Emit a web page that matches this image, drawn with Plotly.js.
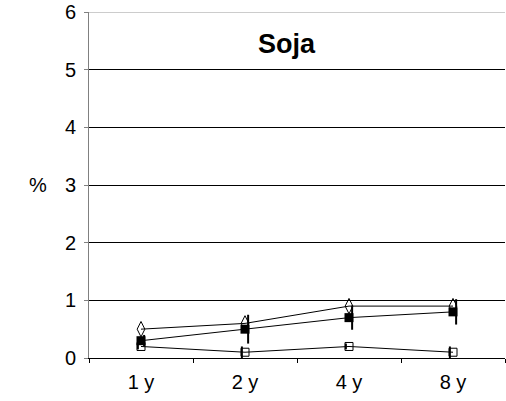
<!DOCTYPE html>
<html><head><meta charset="utf-8">
<script src="https://cdn.plot.ly/plotly-3.0.1.min.js"></script>
<style>html,body{margin:0;padding:0;background:#fff}#c{width:506px;height:401px}</style>
</head><body><div id="c"></div>
<script>
const categories = ['1 y', '2 y', '4 y', '8 y'];
const diamondVals = [0.5, 0.6, 0.9, 0.9];
const filledVals = [0.3, 0.5, 0.7, 0.8];
const filledErr = [0.1, 0.25, 0.21, 0.22];
const openVals = [0.2, 0.1, 0.2, 0.1];
const openErr = [0.05, 0.1, 0.05, 0.1];
const yTicks = [0, 1, 2, 3, 4, 5, 6];

const xs = categories.map((c, i) => i);
const shift = (arr, d) => arr.map(v => v + d);

const traces = [
  {x: shift(xs, 0.03), y: filledVals, mode: 'markers', marker: {size: 1, color: 'rgba(0,0,0,0)'},
   error_y: {type: 'data', array: filledErr, visible: true, color: '#000', thickness: 2, width: 0}, showlegend: false, hoverinfo: 'skip'},
  {x: shift(xs, -0.03), y: openVals, mode: 'markers', marker: {size: 1, color: 'rgba(0,0,0,0)'},
   error_y: {type: 'data', array: openErr, visible: true, color: '#000', thickness: 2, width: 0}, showlegend: false, hoverinfo: 'skip'},
  {x: xs, y: diamondVals, mode: 'lines+markers', line: {color: '#000', width: 1},
   marker: {symbol: 'diamond-tall-open', size: 11, color: '#000', line: {width: 1, color: '#000'}}, showlegend: false},
  {x: xs, y: filledVals, mode: 'lines+markers', line: {color: '#000', width: 1},
   marker: {symbol: 'square', size: 9, color: '#000'}, showlegend: false},
  {x: xs, y: openVals, mode: 'lines+markers', line: {color: '#000', width: 1},
   marker: {symbol: 'square-open', size: 8, color: '#000', line: {width: 1, color: '#000'}}, showlegend: false}
];

const layout = {
  width: 506, height: 401,
  margin: {l: 89, r: 1, t: 12, b: 43},
  paper_bgcolor: '#fff', plot_bgcolor: '#fff',
  font: {family: 'Liberation Sans, Arial, sans-serif', color: '#000'},
  xaxis: {
    range: [-0.5, 3.5], tickvals: xs, ticktext: categories, ticks: '',
    showgrid: false, zeroline: false, showline: true, linecolor: '#000', linewidth: 1,
    tickfont: {size: 20}, ticklabelstandoff: 6, fixedrange: true,
    minor: {tickvals: [-0.5, 0.5, 1.5, 2.5, 3.5], ticks: 'outside', ticklen: 4, tickcolor: '#000', showgrid: false}
  },
  yaxis: {
    range: [0, 6], tickvals: yTicks, ticks: 'outside', ticklen: 4, tickcolor: '#808080',
    showgrid: true, gridcolor: '#000', gridwidth: 1, zeroline: false,
    showline: true, linecolor: '#808080', linewidth: 1,
    tickfont: {size: 20}, ticklabelstandoff: 4, fixedrange: true
  },
  shapes: [
    {type: 'line', xref: 'paper', yref: 'y', x0: 0, x1: 1, y0: 6, y1: 6, line: {color: '#999', width: 1}}
  ],
  annotations: [
    {text: '<b>Soja</b>', xref: 'paper', yref: 'y', x: 0.476, y: 5.45, yanchor: 'middle', showarrow: false, font: {size: 27}},
    {text: '%', xref: 'paper', yref: 'paper', x: -0.095, y: 0.5, xanchor: 'right', showarrow: false, font: {size: 20}}
  ]
};
Plotly.newPlot('c', traces, layout, {displayModeBar: false, staticPlot: true});
</script></body></html>
